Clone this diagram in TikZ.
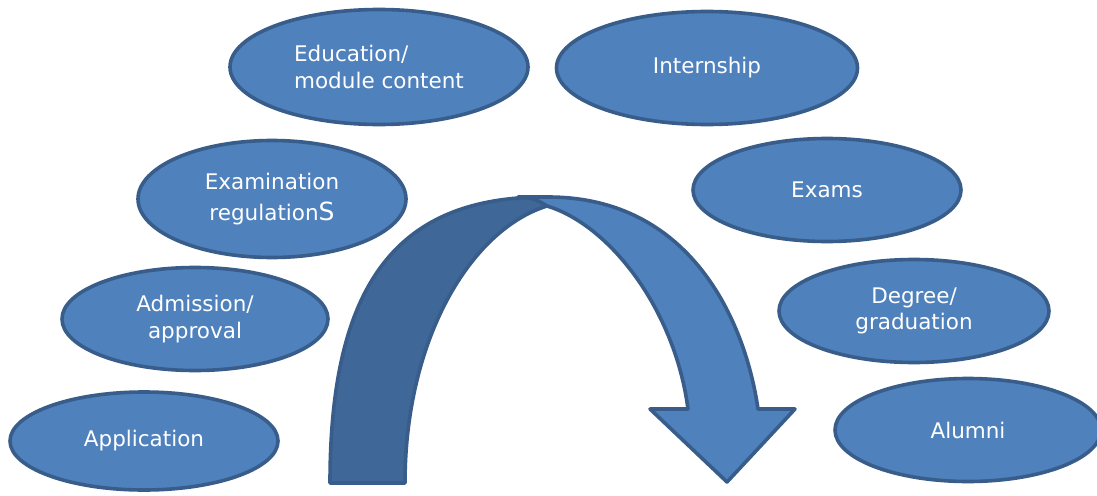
\documentclass[tikz,border=0pt]{standalone}
\usepackage{fontspec}
\setmainfont{DejaVu Sans}
\usetikzlibrary{shapes.geometric}
\definecolor{fillblue}{HTML}{4F81BD}
\definecolor{edgeblue}{HTML}{385D8A}
\definecolor{darkband}{HTML}{3F6797}
\begin{document}
\begin{tikzpicture}[x=1pt,y=-1pt,
  bubble/.style={ellipse, draw=edgeblue, fill=fillblue, line width=3.6pt, text=white,
    inner sep=0pt, font=\fontsize{21.5}{26.5}\selectfont, align=center},
  band/.style={draw=edgeblue, line width=3.6pt, line join=round}]
\clip (0,0) rectangle (1097,495);
\fill[white] (0,0) rectangle (1097,495);

\node[bubble, minimum width=268pt, minimum height=98pt] (app) at (144,441) {Application};
\node[bubble, minimum width=266pt, minimum height=103pt] (adm) at (195,319) {Admission/\\approval};
\node[bubble, minimum width=268pt, minimum height=117pt] (exreg) at (272,199) {Examination\\[4pt]regulation{\fontsize{25}{26.5}\selectfont S}};
\node[bubble, align=left, minimum width=298pt, minimum height=115pt] (edu) at (379,67) {Education/\\module content};
\node[bubble, minimum width=301pt, minimum height=113pt] (intern) at (707,68) {Internship};
\node[bubble, minimum width=268pt, minimum height=103pt] (exams) at (827,190) {Exams};
\node[bubble, minimum width=270pt, minimum height=103pt] (deg) at (914,311) {Degree/\\graduation};
\node[bubble, minimum width=266pt, minimum height=103pt] (alum) at (968,430) {Alumni};

% back (dark) band of the curved arrow
\filldraw[band, fill=darkband] (330,483) .. controls (330,280) and (400,197) .. (545,197)
  -- (547,206) .. controls (470,230) and (405,340) .. (405,483) -- cycle;
% front band with arrowhead
\filldraw[band, fill=fillblue] (518,197) -- (548,197)
  .. controls (690,197) and (745,320) .. (758,409)
  -- (795,409) -- (727,482) -- (650,409) -- (688,409)
  .. controls (675,310) and (610,225) .. (547,206)
  .. controls (538,200) and (530,197) .. (518,197) -- cycle;
\end{tikzpicture}
\end{document}
